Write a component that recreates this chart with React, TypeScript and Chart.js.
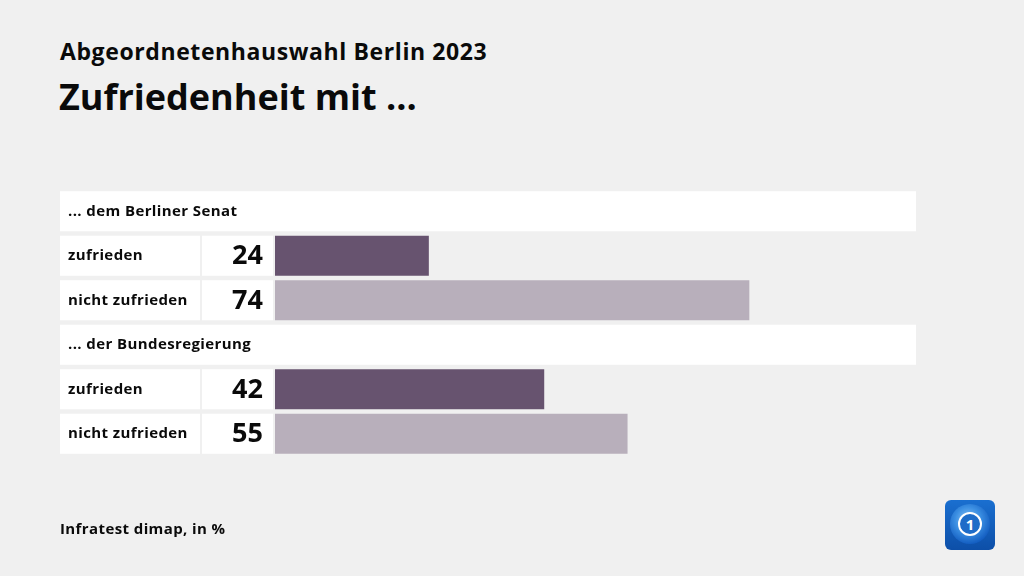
import React, { useEffect, useRef } from "react";
import { Chart, registerables } from "chart.js";

Chart.register(...registerables);

const titleTop = "Abgeordnetenhauswahl Berlin 2023";
const titleMain = "Zufriedenheit mit ...";
const source = "Infratest dimap, in %";
const groups = ["... dem Berliner Senat", "... der Bundesregierung"];
const answers = ["zufrieden", "nicht zufrieden"];
const senatValues = [24, 74];
const bundValues = [42, 55];
const answerColors = ["#67536f", "#b8afbb"];

const FONT = "'Open Sans', 'Noto Sans', sans-serif";

type Row = { kind: "header" | "bar"; label: string; value: number | null; color: string };

const rows: Row[] = [];
[senatValues, bundValues].forEach((vals, gi) => {
  rows.push({ kind: "header", label: groups[gi], value: null, color: "transparent" });
  vals.forEach((v, ai) => rows.push({ kind: "bar", label: answers[ai], value: v, color: answerColors[ai] }));
});

const cellPlugin = {
  id: "cells",
  beforeDatasetsDraw(chart: any) {
    const ctx = chart.ctx as CanvasRenderingContext2D & { letterSpacing?: string };
    const y = chart.scales.y;
    const x = chart.scales.x;
    const pitch = y.getPixelForValue(1) - y.getPixelForValue(0);
    const h = pitch * 0.9;
    const labelLeft = 60;
    const labelRight = 200;
    const valueLeft = 202;
    const valueRight = 273;
    const right = x.getPixelForValue(100);
    ctx.save();
    rows.forEach((r, i) => {
      const cy = y.getPixelForValue(i);
      const top = cy - h / 2;
      ctx.fillStyle = "#ffffff";
      ctx.textBaseline = "middle";
      if (r.kind === "header") {
        ctx.fillRect(labelLeft, top, right - labelLeft, h);
      } else {
        ctx.fillRect(labelLeft, top, labelRight - labelLeft, h);
        ctx.fillRect(valueLeft, top, valueRight - valueLeft, h);
      }
      ctx.fillStyle = "#0a0a0a";
      ctx.font = `bold 15px ${FONT}`;
      ctx.letterSpacing = "0.4px";
      ctx.textAlign = "left";
      ctx.fillText(r.label, 68, cy);
      if (r.kind === "bar") {
        ctx.letterSpacing = "0px";
        ctx.font = `bold 27px ${FONT}`;
        ctx.textAlign = "right";
        ctx.fillText(String(r.value), 263, cy + 1);
      }
    });
    ctx.restore();
  },
};

export default function App() {
  const ref = useRef<HTMLCanvasElement | null>(null);
  useEffect(() => {
    if (!ref.current) return;
    const chart = new Chart(ref.current, {
      type: "bar",
      data: {
        labels: rows.map((r) => r.label),
        datasets: [
          {
            data: rows.map((r) => r.value),
            backgroundColor: rows.map((r) => r.color),
            borderWidth: 0,
            barPercentage: 0.9,
            categoryPercentage: 1,
          },
        ],
      },
      options: {
        indexAxis: "y",
        animation: false,
        responsive: false,
        maintainAspectRatio: false,
        layout: { padding: { left: 275, right: 108, top: 189, bottom: 120 } },
        plugins: { legend: { display: false }, tooltip: { enabled: false }, title: { display: false } },
        scales: {
          x: { display: false, min: 0, max: 100 },
          y: { display: false },
        },
      },
      plugins: [cellPlugin],
    });
    return () => chart.destroy();
  }, []);

  return (
    <div style={{ position: "fixed", left: 0, top: 0, width: 1024, height: 576, background: "#f0f0f0", fontFamily: FONT, color: "#0a0a0a" }}>
      <div style={{ position: "absolute", left: 60, top: 40, fontSize: 23, lineHeight: "23px", fontWeight: 700, letterSpacing: "0.6px", whiteSpace: "nowrap" }}>{titleTop}</div>
      <div style={{ position: "absolute", left: 59, top: 79, fontSize: 36, lineHeight: "36px", fontWeight: 700, whiteSpace: "nowrap" }}>{titleMain}</div>
      <canvas ref={ref} width={1024} height={576} style={{ position: "absolute", left: 0, top: 0, width: 1024, height: 576 }} />
      <div style={{ position: "absolute", left: 60, top: 521, fontSize: 15, lineHeight: "15px", fontWeight: 700, letterSpacing: "0.4px", whiteSpace: "nowrap" }}>{source}</div>
      <div style={{ position: "absolute", left: 945, top: 500, width: 50, height: 50, borderRadius: 6, overflow: "hidden", background: "linear-gradient(180deg, #1a6fd0 0%, #0d4fa8 100%)" }}>
        <div style={{ position: "absolute", left: 5, top: 4, width: 40, height: 40, borderRadius: "50%", background: "radial-gradient(circle at 45% 40%, #8cc4f5 0%, #3a8ee2 40%, #125cc0 75%, #0d4fa8 100%)" }} />
        <div style={{ position: "absolute", left: 13, top: 12, width: 20, height: 20, borderRadius: "50%", border: "2.5px solid #ffffff", background: "#1e6cc8", color: "#fff", fontWeight: 700, fontSize: 15, lineHeight: "20px", textAlign: "center", fontFamily: FONT }}>1</div>
      </div>
    </div>
  );
}
